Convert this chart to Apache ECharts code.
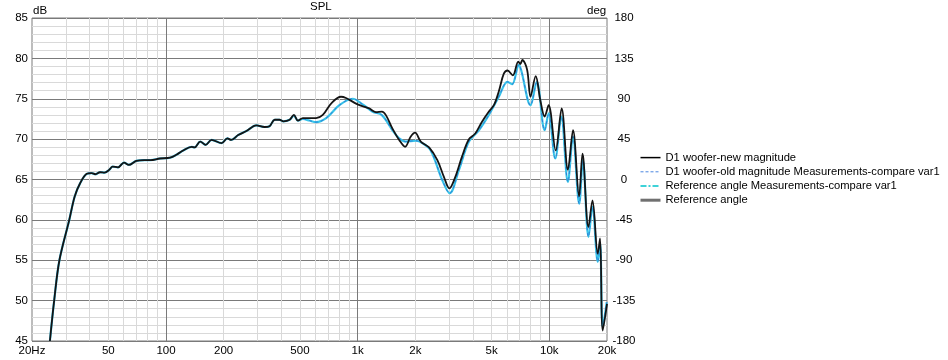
<!DOCTYPE html>
<html>
<head>
<meta charset="utf-8">
<script src="https://cdn.jsdelivr.net/npm/echarts@6/dist/echarts.min.js"></script>
<style>
html,body{margin:0;padding:0;background:#fff;}
#chart{width:948px;height:360px;}
</style>
</head>
<body>
<div id="chart"></div>
<script>
// ---- data ----
var newFreq = [24.8, 26.1, 27.8, 31.3, 33.4, 35.6, 38.6, 41, 42.8, 45.3, 47.8, 50.6, 52.7, 56.2, 60.4, 64, 70, 77.5, 83, 93, 105, 114, 123, 136, 141, 151, 161, 173, 195, 209, 219, 238, 263, 296, 327, 347, 369, 391, 410, 442, 465, 488, 518, 607, 658, 727, 819, 869, 1000, 1150, 1245, 1339, 1404, 1520, 1647, 1769, 1890, 1995, 2135, 2359, 2606, 2822, 3010, 3230, 3500, 3800, 4110, 4440, 4830, 5140, 5450, 5790, 6050, 6450, 6890, 7060, 7230, 7660, 7980, 8490, 8980, 9456, 9920, 10800, 11600, 12500, 13300, 14300, 14900, 16000, 16800, 17900, 18400, 19000, 20000];
var newDb = [45, 50, 55, 60, 62.9, 64.5, 65.7, 65.8, 65.65, 65.9, 65.85, 66.2, 66.6, 66.5, 67.1, 66.8, 67.3, 67.4, 67.4, 67.6, 67.7, 68.1, 68.6, 69.05, 68.97, 69.7, 69.3, 69.9, 69.5, 70.1, 69.9, 70.5, 71.0, 71.7, 71.5, 71.6, 72.4, 72.4, 72.2, 72.4, 73.0, 72.3, 72.6, 72.6, 73.0, 74.4, 75.25, 75.1, 74.3, 73.8, 73.35, 73.4, 72.97, 71.3, 69.9, 69.05, 70.3, 70.8, 69.7, 68.97, 67.4, 65.3, 63.9, 65.3, 67.8, 69.96, 70.7, 72.1, 73.4, 74.2, 75.9, 78.1, 78.5, 77.9, 79.6, 79.3, 79.8, 78.6, 75.25, 77.8, 74.8, 72.8, 74.2, 68.6, 73.8, 66.2, 71.1, 62.9, 68.2, 59.1, 62.4, 55.8, 57.7, 46.3, 49.6];

var oldFreq = [24.8, 26.1, 27.8, 31.3, 33.4, 35.6, 38.6, 41, 42.8, 45.3, 47.8, 50.6, 52.7, 56.2, 60.4, 64, 70, 77.5, 83, 93, 105, 114, 123, 136, 141, 151, 161, 173, 195, 209, 219, 238, 263, 296, 327, 347, 369, 391, 410, 442, 465, 488, 518, 560, 607, 685, 803, 942, 1062, 1197, 1338, 1520, 1647, 1784, 2011, 2178, 2406, 2767, 3020, 3378, 3807, 4292, 4838, 5453, 6050, 6400, 6940, 7140, 7980, 8600, 9460, 9920, 10740, 11544, 12500, 13280, 14320, 14970, 16010, 16790, 17910, 18410, 19010, 19940];
var oldDb = [45, 50, 55, 60, 62.9, 64.5, 65.7, 65.8, 65.65, 65.9, 65.85, 66.2, 66.6, 66.5, 67.1, 66.8, 67.3, 67.4, 67.4, 67.6, 67.7, 68.1, 68.6, 69.05, 68.97, 69.7, 69.3, 69.9, 69.5, 70.1, 69.9, 70.5, 71.0, 71.7, 71.5, 71.6, 72.4, 72.4, 72.2, 72.4, 72.9, 72.3, 72.5, 72.3, 72.1, 72.6, 74.2, 75.0, 74.3, 73.4, 72.97, 71.1, 70.1, 69.7, 69.8, 69.5, 68.6, 64.9, 63.3, 66.2, 69.7, 71.1, 73.0, 75.25, 77.1, 76.8, 79.2, 78.5, 74.2, 77.1, 71.1, 73.2, 67.6, 72.8, 64.7, 70.3, 62.0, 67.4, 57.9, 61.6, 54.8, 57.1, 46.7, 49.8];

var refAngleVar1 = [];
var refAngle = [];

var freqLabelValues = [20, 50, 100, 200, 500, 1000, 2000, 5000, 10000, 20000];
var freqLabelTexts = ['20Hz', '50', '100', '200', '500', '1k', '2k', '5k', '10k', '20k'];
var freqMinorGrid = [30, 40, 50, 60, 70, 80, 90, 200, 300, 400, 500, 600, 700, 800, 900, 2000, 3000, 4000, 5000, 6000, 7000, 8000, 9000];
var freqMajorGrid = [100, 1000, 10000];

var seriesNames = ['D1 woofer-new magnitude', 'D1 woofer-old magnitude Measurements-compare var1', 'Reference angle Measurements-compare var1', 'Reference angle'];

// ---- build ----
function pairs(f, v) { return f.map(function (x, i) { return [Math.log10(x), v[i]]; }); }
var lg = function (a) { return a.map(function (x) { return Math.log10(x); }); };
var FONT = 'Liberation Sans';
var FS = 11.5;

var chart = echarts.init(document.getElementById('chart'), null, { renderer: 'canvas' });
var xMin = Math.log10(20), xMax = Math.log10(20000);
var hideSym = { opacity: 0 };

var option = {
  animation: false,
  backgroundColor: '#fff',
  textStyle: { fontFamily: FONT },
  grid: { left: 32, right: 341, top: 18, bottom: 19, show: true, borderColor: '#7a7a7a', borderWidth: 1, backgroundColor: '#fff' },
  graphic: [
    { type: 'text', left: 33, top: 5, style: { text: 'dB', font: FS + 'px ' + FONT, fill: '#000' } },
    { type: 'text', left: 310, top: 1, style: { text: 'SPL', font: FS + 'px ' + FONT, fill: '#000' } },
    { type: 'text', left: 587, top: 5, style: { text: 'deg', font: FS + 'px ' + FONT, fill: '#000' } }
  ],
  xAxis: [
    {
      type: 'value', min: xMin, max: xMax,
      axisLine: { show: false },
      axisTick: { show: false, customValues: lg(freqMinorGrid) },
      axisLabel: {
        customValues: lg(freqLabelValues), margin: 4, fontSize: FS, color: '#000', fontFamily: FONT,
        formatter: function (v) {
          var best = 0, d = 1e9;
          freqLabelValues.forEach(function (f, i) { var dd = Math.abs(Math.log10(f) - v); if (dd < d) { d = dd; best = i; } });
          return freqLabelTexts[best];
        }
      },
      splitLine: { show: true, lineStyle: { color: '#d9d9d9', width: 1 } }
    },
    {
      type: 'value', min: xMin, max: xMax, position: 'bottom',
      axisLine: { show: false },
      axisTick: { show: false, customValues: lg(freqMajorGrid) },
      axisLabel: { show: false },
      splitLine: { show: true, lineStyle: { color: '#7a7a7a', width: 1 } }
    }
  ],
  yAxis: [
    {
      type: 'value', min: 45, max: 85, interval: 5,
      axisLine: { show: false }, axisTick: { show: false },
      axisLabel: { margin: 4, fontSize: FS, color: '#000', fontFamily: FONT },
      splitLine: { show: true, lineStyle: { color: '#7a7a7a', width: 1 } },
      minorTick: { show: false, splitNumber: 5 },
      minorSplitLine: { show: true, lineStyle: { color: '#d9d9d9', width: 1 } }
    },
    {
      type: 'value', min: -180, max: 180, interval: 45, position: 'right',
      axisLine: { show: false }, axisTick: { show: false },
      axisLabel: { margin: 17, align: 'center', fontSize: FS, color: '#000', fontFamily: FONT },
      splitLine: { show: false }
    }
  ],
  legend: {
    orient: 'vertical', left: 639, top: 152, padding: 0,
    itemWidth: 20, itemHeight: 14, itemGap: 3,
    textStyle: { fontSize: 11.2, color: '#000', fontFamily: FONT },
    selectedMode: false,
    data: [
      { name: seriesNames[0], itemStyle: hideSym, lineStyle: { color: '#000', width: 1.5, type: 'solid' } },
      { name: seriesNames[1], itemStyle: hideSym, lineStyle: { color: '#4a86e0', width: 1, type: [3, 2] } },
      { name: seriesNames[2], itemStyle: hideSym, lineStyle: { color: '#3ed2d8', width: 2, type: [6, 2, 2, 2] } },
      { name: seriesNames[3], itemStyle: hideSym, lineStyle: { color: '#707070', width: 3, type: 'solid' } }
    ]
  },
  series: [
    {
      name: seriesNames[1], type: 'line', xAxisIndex: 0, yAxisIndex: 0, data: pairs(oldFreq, oldDb),
      symbol: 'none', smooth: 0.35, z: 2, clip: true,
      lineStyle: { color: '#38c4e8', width: 2.2 }, itemStyle: { color: '#38c4e8' }
    },
    {
      name: seriesNames[1], type: 'line', xAxisIndex: 0, yAxisIndex: 0, data: pairs(oldFreq, oldDb),
      symbol: 'none', smooth: 0.35, z: 3, clip: true,
      lineStyle: { color: '#2f7ed6', width: 1, type: [3, 3] }, itemStyle: { color: '#2f7ed6' }
    },
    {
      name: seriesNames[0], type: 'line', xAxisIndex: 0, yAxisIndex: 0, data: pairs(newFreq, newDb),
      symbol: 'none', smooth: 0.35, z: 4, clip: true,
      lineStyle: { color: '#141414', width: 1.8 }, itemStyle: { color: '#141414' }
    },
    {
      name: seriesNames[2], type: 'line', xAxisIndex: 0, yAxisIndex: 1, data: refAngleVar1,
      symbol: 'none', lineStyle: { color: '#3ed2d8', width: 2, type: [6, 2, 2, 2] }, itemStyle: { color: '#3ed2d8' }
    },
    {
      name: seriesNames[3], type: 'line', xAxisIndex: 0, yAxisIndex: 1, data: refAngle,
      symbol: 'none', lineStyle: { color: '#707070', width: 3 }, itemStyle: { color: '#707070' }
    }
  ]
};
chart.setOption(option);
</script>
</body>
</html>
